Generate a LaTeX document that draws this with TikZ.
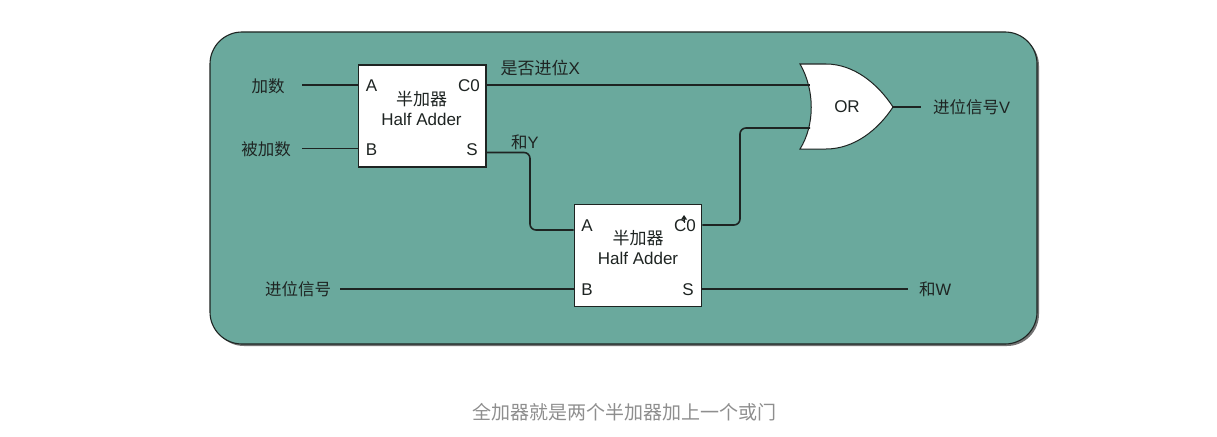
\documentclass[tikz,border=0pt]{standalone}
\usepackage{fontspec}
\setmainfont{Liberation Sans}
\newfontfamily\cjk{Noto Sans CJK SC}
\definecolor{panel}{HTML}{6AA99D}
\definecolor{ink}{HTML}{1E2422}
\definecolor{capgray}{HTML}{8E8E8E}
\tikzset{
  panelbox/.style={draw=ink,line width=1.1pt,fill=panel,rounded corners=32pt},
  adder/.style={draw=ink,line width=1.3pt,fill=white,minimum width=127.5pt,minimum height=102pt,inner sep=0pt},
  addertext/.style={text=ink,inner sep=0pt,align=center,font=\fontsize{17}{20}\selectfont},
  port/.style={text=ink,inner sep=0pt,font=\fontsize{17}{18}\selectfont},
  lbl/.style={text=ink,inner sep=0pt,font=\fontsize{16.5}{18}\selectfont},
  wire/.style={draw=ink,line width=1.6pt,rounded corners=6pt},
  thinwire/.style={draw=ink,line width=0.9pt},
  orgate/.style={draw=ink,line width=1pt,fill=white},
}
\begin{document}
\begin{tikzpicture}[x=1pt,y=-1pt]
\useasboundingbox (0,0) rectangle (1217,436);
\fill[black!55,rounded corners=32pt] (212,34) rectangle (1039,346);
\path[panelbox] (210,32) rectangle (1037,344);

% half adders
\node[adder] (ha1) at (422.25,116) {};
\node[adder] (ha2) at (638,255.5) {};
\node[addertext] (ha1t) at (421.5,108) {{\cjk 半加器}\\Half Adder};
\node[addertext] (ha2t) at (638,247.5) {{\cjk 半加器}\\Half Adder};
\node[port] (a1) at (371.5,86) {A};
\node[port] (b1) at (371.5,149.5) {B};
\node[port] (c1) at (469,86) {C0};
\node[port] (s1) at (472,149.5) {S};
\node[port] (a2) at (587,226) {A};
\node[port] (b2) at (587,289.5) {B};
\node[port] (c2) at (685,226) {C0};
\node[port] (s2) at (688,289.5) {S};
\fill[ink] (684,215) -- (681,219.5) -- (687,219.5) -- cycle;
\draw[ink,line width=0.9pt] (684,219) -- (684,223);

% OR gate
\path[orgate] (800,64) -- (826,64) .. controls (854,64) and (878,84) .. (893,107)
  .. controls (878,130) and (854,149) .. (826,149) -- (800,149)
  .. controls (815,125) and (815,90) .. (800,64) -- cycle;
\node[port] (orlabel) at (847,107) {OR};
\coordinate (orin1) at (810,85);
\coordinate (orin2) at (810,128);
\coordinate (orout) at (893,107);

% free ends and ports
\coordinate (inA) at (302,85);
\coordinate (inB) at (302,148.5);
\coordinate (inC) at (340,289);
\coordinate (outV) at (921,107);
\coordinate (outW) at (908,289);

% labels
\node[lbl] (ljia) at (268,86) {\cjk 加数};
\node[lbl] (lbei) at (266,149) {\cjk 被加数};
\node[lbl] (lcar) at (298,289.5) {\cjk 进位信号};
\node[lbl,anchor=west,font=\fontsize{17}{18}\selectfont] (lx) at (500.5,67.5) {{\cjk 是否进位}X};
\node[lbl,anchor=west] (ly) at (511,142.5) {{\cjk 和}Y};
\node[lbl,anchor=west] (lv) at (933,107) {{\cjk 进位信号}V};
\node[lbl,anchor=west] (lw) at (919,289) {{\cjk 和}W};

% connectors
\draw[wire] (inA) -- (ha1.west |- inA);
\draw[thinwire] (inB) -- (ha1.west |- inB);
\draw[wire] (ha1.east |- orin1) -- (orin1);
\draw[wire] (ha1.east |- 0,152.5) -- (530,152.5) -- (530,230) -- (ha2.west |- 0,230);
\draw[wire] (ha2.east |- 0,225) -- (740,225) -- (740,128) -- (orin2);
\draw[wire] (inC) -- (ha2.west |- inC);
\draw[wire] (ha2.east |- outW) -- (outW);
\draw[wire] (orout) -- (outV);

% caption
\node[inner sep=0pt,text=capgray,font=\cjk\fontsize{19}{22}\selectfont] (caption) at (624,412) {全加器就是两个半加器加上一个或门};
\end{tikzpicture}
\end{document}
